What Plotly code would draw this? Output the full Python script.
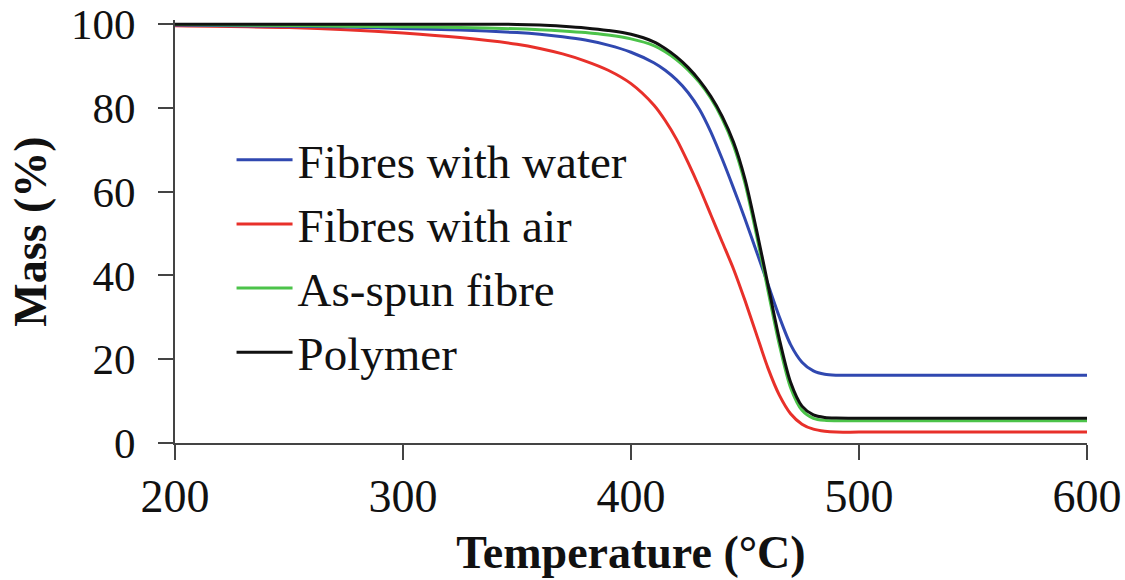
import plotly.graph_objects as go

temperature = [200, 250, 275, 300, 325, 350, 360, 370, 380, 390, 400, 410, 415, 420, 425,
               430, 435, 440, 445, 450, 455, 460, 465, 470, 475, 480, 485, 490, 500, 550, 600]

fibres_water = [99.8, 99.5, 99.3, 99.0, 98.6, 98.0, 97.6, 97.0, 96.2, 95.0, 93.3, 90.8, 89.0, 86.7, 83.7,
                79.7, 74.3, 67.8, 60.8, 53.5, 45.8, 38.0, 30.2, 23.5, 19.3, 17.2, 16.4, 16.2, 16.2, 16.2, 16.2]
fibres_air = [99.6, 99.2, 98.7, 97.9, 96.8, 95.2, 94.2, 92.9, 91.2, 89.0, 85.8, 80.7, 77.0, 72.5, 67.0,
              61.0, 54.5, 48.0, 41.5, 34.0, 26.0, 18.0, 11.5, 7.0, 4.5, 3.3, 2.8, 2.6, 2.6, 2.6, 2.6]
as_spun = [99.9, 99.7, 99.5, 99.4, 99.2, 98.9, 98.7, 98.4, 98.0, 97.4, 96.5, 94.9, 93.4, 91.5, 89.1,
           86.1, 82.3, 77.4, 71.0, 62.0, 49.8, 36.6, 23.6, 13.2, 7.8, 5.9, 5.4, 5.3, 5.3, 5.3, 5.3]
polymer = [100.0, 100.0, 100.0, 100.0, 100.0, 99.95, 99.8, 99.5, 99.1, 98.5, 97.6, 95.8, 94.2, 92.2, 89.7,
           86.6, 82.8, 78.0, 71.8, 63.0, 51.0, 38.0, 25.0, 14.5, 8.8, 6.7, 6.1, 5.95, 5.9, 5.9, 5.9]

x_ticks = [200, 300, 400, 500, 600]
y_ticks = [0, 20, 40, 60, 80, 100]

series = [
    ("Fibres with air", fibres_air, "#e8302a", 2),
    ("Fibres with water", fibres_water, "#3048b0", 1),
    ("As-spun fibre", as_spun, "#4cc34a", 3),
    ("Polymer", polymer, "#111111", 4),
]

FONT = "Liberation Serif"

fig = go.Figure()
for name, vals, color, rank in series:
    fig.add_trace(go.Scatter(
        x=temperature, y=vals, name=name, mode="lines",
        line=dict(color=color, width=3, shape="spline", smoothing=0.8),
        legendrank=rank,
    ))

fig.update_layout(
    width=1125, height=580,
    margin=dict(l=175, r=38, t=20, b=137, autoexpand=False),
    paper_bgcolor="white", plot_bgcolor="white",
    font=dict(family=FONT, size=46, color="#111"),
    showlegend=True,
    legend=dict(
        x=0.062, y=0.757, xanchor="left", yanchor="top",
        font=dict(family=FONT, size=47, color="#111"),
        bgcolor="rgba(0,0,0,0)", itemwidth=56,
    ),
    xaxis=dict(
        range=[200, 600], tickvals=x_ticks, ticktext=[str(v) for v in x_ticks],
        automargin=False, showgrid=False, zeroline=False,
        showline=True, linecolor="#444", linewidth=2,
        ticks="outside", ticklen=15, tickwidth=2, tickcolor="#444",
        ticklabelstandoff=-3, ticklabeloverflow="allow",
        tickfont=dict(family=FONT, size=46, color="#111"),
        title=dict(text="<b>Temperature (°C)</b>", font=dict(family=FONT, size=46), standoff=15),
    ),
    yaxis=dict(
        range=[0, 101], tickvals=y_ticks, ticktext=[str(v) for v in y_ticks],
        automargin=False, showgrid=False, zeroline=False,
        showline=True, linecolor="#444", linewidth=2,
        ticks="outside", ticklen=15, tickwidth=2, tickcolor="#444",
        ticklabelstandoff=14, ticklabeloverflow="allow",
        tickfont=dict(family=FONT, size=43, color="#111"),
        title=dict(text="<b>Mass (%)</b>", font=dict(family=FONT, size=46), standoff=10),
    ),
)

fig.write_html("out.html")
